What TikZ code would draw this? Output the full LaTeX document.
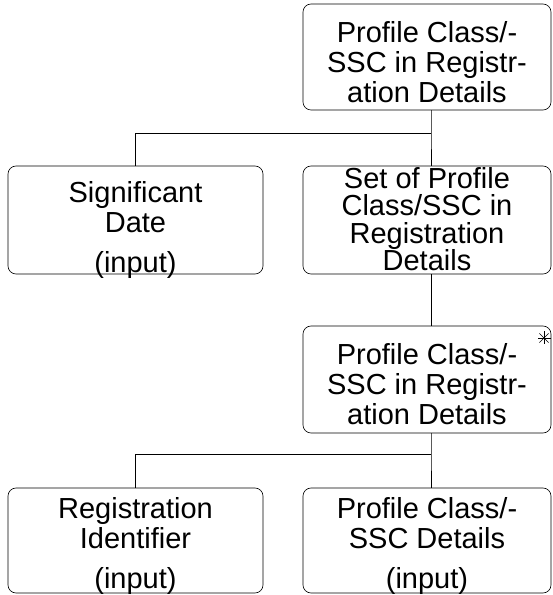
\documentclass[tikz,border=0pt]{standalone}
\usepackage{fontspec}
\setmainfont{Liberation Sans}
\tikzset{
  entbox/.style={draw, rounded corners=8pt, inner sep=0pt,
    minimum width=248pt, minimum height=106pt, line width=0.6pt},
  boxtext/.style={align=center, inner sep=0pt, font=\fontsize{29}{30}\selectfont},
  link/.style={line width=0.6pt}
}
\begin{document}
\begin{tikzpicture}[x=1pt,y=1pt]
\useasboundingbox (0,0) rectangle (553,595);
% top level
\node [entbox] (top) at (427,538) {};
\node [boxtext] (toptext) at ([yshift=-5pt]top.center) {Profile Class/-\\SSC in Registr-\\ation Details};
% second row
\node [entbox, minimum width=255pt, minimum height=108pt] (sigdate) at (135.5,375) {};
\node [boxtext] (sigtext) at ([yshift=-10pt]sigdate.center) {Significant\\Date\\[10pt](input)};
\node [entbox, minimum height=108pt] (setpc) at (427,375) {};
\node [boxtext, font=\fontsize{29}{27.5}\selectfont] (settext) at ([yshift=1pt]setpc.center) {Set of Profile\\Class/SSC in\\Registration\\Details};
% iterated element
\node [entbox, minimum height=107pt] (iter) at (427,215.5) {};
\node [boxtext] (itertext) at ([yshift=-5pt]iter.center) {Profile Class/-\\SSC in Registr-\\ation Details};
\coordinate (star) at (544,257);
\foreach \a in {0,45,...,315}
{
       \draw [line width=0.5pt] (star) -- ++(\a:6.5);
}
% bottom row
\node [entbox, minimum width=255pt, minimum height=105pt] (regid) at (135.5,54.5) {};
\node [boxtext] (regtext) at ([yshift=-6pt]regid.center) {Registration\\Identifier\\[10pt](input)};
\node [entbox, minimum height=105pt] (pcdet) at (427,54.5) {};
\node [boxtext] (pctext) at ([yshift=-6pt]pcdet.center) {Profile Class/-\\SSC Details\\[10pt](input)};
% connectors
\coordinate (barA) at (431,462);
\coordinate (barB) at (431,141);
\draw [link] (top.south -| barA) -- (barA) -- (setpc.north -| barA);
\draw [link] (barA) -- (barA -| sigdate) -- (sigdate.north);
\draw [link] (setpc.south -| barA) -- (iter.north -| barA);
\draw [link] (iter.south -| barB) -- (barB) -- (pcdet.north -| barB);
\draw [link] (barB) -- (barB -| regid) -- (regid.north);
\end{tikzpicture}
\end{document}
